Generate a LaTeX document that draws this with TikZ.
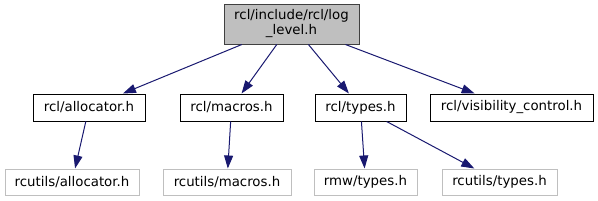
\documentclass[tikz,border=0pt]{standalone}
\usepackage{fontspec}
\setmainfont{DejaVu Sans}
\usetikzlibrary{arrows.meta}
\definecolor{edgeblue}{RGB}{25,25,112}
\definecolor{rootfill}{RGB}{191,191,191}
\definecolor{rootdraw}{RGB}{64,64,64}
\definecolor{lightdraw}{RGB}{191,191,191}
\begin{document}
\begin{tikzpicture}[x=1pt,y=-1pt,
  every node/.style={font=\fontsize{13.33}{15}\selectfont, inner sep=0pt, align=center, text=black},
  rootbox/.style={draw=rootdraw, fill=rootfill, line width=1pt},
  linkbox/.style={draw=black, fill=white, line width=1pt, minimum height=27pt},
  extbox/.style={draw=lightdraw, fill=white, line width=1pt, minimum height=26pt},
  dep/.style={draw=edgeblue, line width=1pt, -{Triangle[length=13pt,width=9pt]}}
]
\useasboundingbox (0,0) rectangle (598,201);
\node[rootbox, minimum width=135pt, minimum height=40pt] (root) at (291.5,24) {rcl/include/rcl/log\\\_level.h};
\node[linkbox, minimum width=112pt] (alloc) at (89,107.5) {rcl/allocator.h};
\node[linkbox, minimum width=103pt] (macros) at (231.5,107.5) {rcl/macros.h};
\node[linkbox, minimum width=91pt] (types) at (360.5,107.5) {rcl/types.h};
\node[linkbox, minimum width=163pt] (vis) at (511.5,107.5) {rcl/visibility\_control.h};
\node[extbox, minimum width=134pt] (ualloc) at (72,182) {rcutils/allocator.h};
\node[extbox, minimum width=128pt] (umacros) at (227,182) {rcutils/macros.h};
\node[extbox, minimum width=103pt] (rmwtypes) at (365.5,182) {rmw/types.h};
\node[extbox, minimum width=115pt] (utypes) at (499.5,182) {rcutils/types.h};
\draw[dep] (root) -- (alloc);
\draw[dep] (root) -- (macros);
\draw[dep] (root) -- (types);
\draw[dep] (root) -- (vis);
\draw[dep] (alloc) -- (ualloc);
\draw[dep] (macros) -- (umacros);
\draw[dep] (types) -- (rmwtypes);
\draw[dep] (types) -- (utypes);
\end{tikzpicture}
\end{document}
